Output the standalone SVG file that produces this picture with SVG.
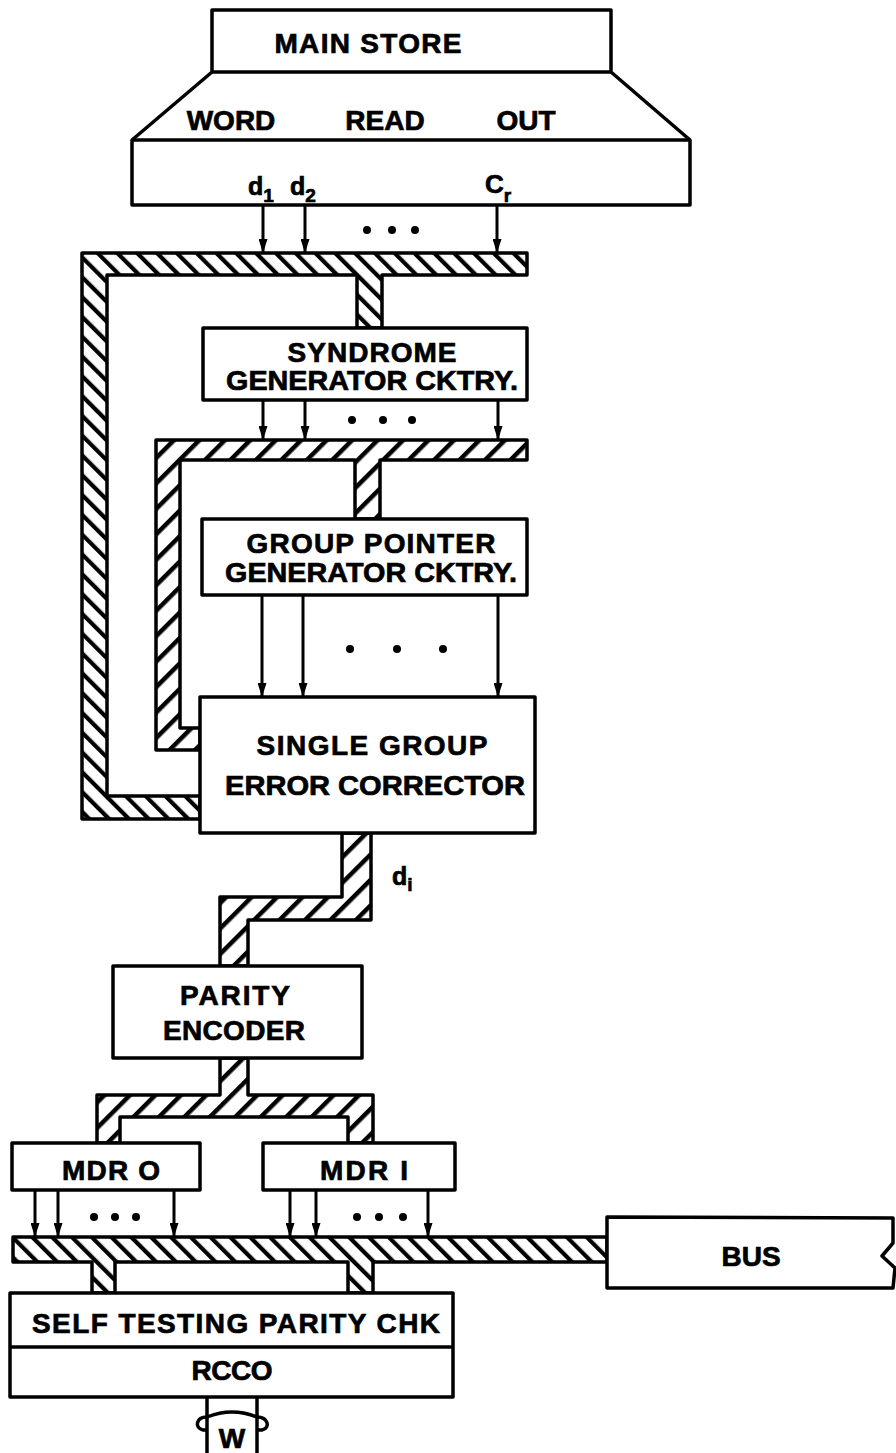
<svg xmlns="http://www.w3.org/2000/svg" width="896" height="1453" viewBox="0 0 896 1453">
<style>
.box{fill:#fff;stroke:#000;stroke-width:3.5;stroke-linejoin:round}
.ln{fill:none;stroke:#000;stroke-width:3.5;stroke-linejoin:round}
.t{font-family:"Liberation Sans",Arial,sans-serif;font-weight:bold;font-size:28px;fill:#000;stroke:#000;stroke-width:0.7;text-anchor:middle}
.s{font-family:"Liberation Sans",Arial,sans-serif;font-weight:bold;fill:#000;stroke:#000;stroke-width:0.7}
.arr{stroke:#000;stroke-width:3;fill:none;marker-end:url(#ah)}
.busB{fill:url(#hb);stroke:#000;stroke-width:3.5;stroke-linejoin:round}
.busF{fill:url(#hf);stroke:#000;stroke-width:3.5;stroke-linejoin:round}
.dot{fill:#000}
</style>
<defs>
<pattern id="hb" width="14" height="14" patternUnits="userSpaceOnUse" patternTransform="rotate(-45)"><rect width="14" height="14" fill="#fff"/><rect width="4.2" height="14" fill="#000"/></pattern>
<pattern id="hf" width="18" height="18" patternUnits="userSpaceOnUse" patternTransform="rotate(45)"><rect width="18" height="18" fill="#fff"/><rect width="4.5" height="18" fill="#000"/></pattern>
<marker id="ah" viewBox="0 0 10 10" refX="10" refY="5" markerWidth="14" markerHeight="9" markerUnits="userSpaceOnUse" orient="auto" preserveAspectRatio="none"><path d="M0,0 L10,5 L0,10 Z" fill="#000"/></marker>
</defs>
<rect width="896" height="1453" fill="#fff"/>

<g id="connectors">
<path class="busB" d="M82,253 L527,253 L527,275 L382,275 L382,328 L357,328 L357,275 L107,275 L107,796 L200,796 L200,819 L82,819 Z"/>
<path class="busF" d="M156,440 L527,440 L527,460 L380,460 L380,519 L355,519 L355,460 L180,460 L180,728 L200,728 L200,750 L156,750 Z"/>
<path class="busF" d="M342,833 L371,833 L371,920 L248,920 L248,966 L220,966 L220,897 L342,897 Z"/>
<path class="busF" d="M220,1058 L248,1058 L248,1095 L373,1095 L373,1143 L348,1143 L348,1117 L120,1117 L120,1143 L97,1143 L97,1095 L220,1095 Z"/>
<path class="busB" d="M13,1237 L607,1237 L607,1262 L373,1262 L373,1293 L348,1293 L348,1262 L115,1262 L115,1293 L92,1293 L92,1262 L13,1262 Z"/>

<line class="arr" x1="263" y1="205" x2="263" y2="253"/>
<line class="arr" x1="305" y1="205" x2="305" y2="253"/>
<line class="arr" x1="497" y1="205" x2="497" y2="253"/>
<circle class="dot" cx="367" cy="230" r="4"/><circle class="dot" cx="392" cy="230" r="4"/><circle class="dot" cx="415" cy="230" r="4"/>
<line class="arr" x1="263" y1="400" x2="263" y2="440"/>
<line class="arr" x1="305" y1="400" x2="305" y2="440"/>
<line class="arr" x1="498" y1="400" x2="498" y2="440"/>
<circle class="dot" cx="352" cy="420" r="4"/><circle class="dot" cx="383" cy="420" r="4"/><circle class="dot" cx="412" cy="420" r="4"/>
<line class="arr" x1="262" y1="595" x2="262" y2="697"/>
<line class="arr" x1="303" y1="595" x2="303" y2="697"/>
<line class="arr" x1="498" y1="595" x2="498" y2="697"/>
<circle class="dot" cx="350" cy="649" r="4"/><circle class="dot" cx="397" cy="649" r="4"/><circle class="dot" cx="443" cy="649" r="4"/>
<line class="arr" x1="35" y1="1190" x2="35" y2="1237"/>
<line class="arr" x1="58" y1="1190" x2="58" y2="1237"/>
<line class="arr" x1="174" y1="1190" x2="174" y2="1237"/>
<circle class="dot" cx="94" cy="1217" r="4"/><circle class="dot" cx="115" cy="1217" r="4"/><circle class="dot" cx="136" cy="1217" r="4"/>
<line class="arr" x1="290" y1="1190" x2="290" y2="1237"/>
<line class="arr" x1="316" y1="1190" x2="316" y2="1237"/>
<line class="arr" x1="428" y1="1190" x2="428" y2="1237"/>
<circle class="dot" cx="357" cy="1217" r="4"/><circle class="dot" cx="379" cy="1217" r="4"/><circle class="dot" cx="403" cy="1217" r="4"/>
<line class="ln" x1="207" y1="1397" x2="207" y2="1453"/>
<line class="ln" x1="257" y1="1397" x2="257" y2="1453"/>
<path class="ln" d="M207,1417 Q232,1407 257,1417" stroke-width="3"/>
<path class="ln" d="M207,1417 C196,1417 194,1428 203,1430 L207,1430" stroke-width="3"/>
<path class="ln" d="M257,1417 C268,1417 271,1428 262,1430 L257,1430" stroke-width="3"/>
</g>

<g id="main-store">
<path class="box" d="M212,10 L611,10 L611,72 L690,140 L690,205 L132,205 L132,140 L212,72 Z"/>
<line class="ln" x1="212" y1="72" x2="611" y2="72"/>
<line class="ln" x1="132" y1="140" x2="690" y2="140"/>
<text class="t" x="368" y="53" textLength="187" lengthAdjust="spacing">MAIN STORE</text>
<text class="t" x="231" y="130">WORD</text>
<text class="t" x="385" y="130">READ</text>
<text class="t" x="526" y="130">OUT</text>
<text class="s" x="248" y="195" font-size="25">d<tspan font-size="19" dy="7">1</tspan></text>
<text class="s" x="290" y="195" font-size="25">d<tspan font-size="19" dy="7">2</tspan></text>
<text class="s" x="485" y="193" font-size="26">C<tspan font-size="19" dy="9">r</tspan></text>
</g>

<g id="syndrome-generator">
<rect class="box" x="203" y="328" width="324" height="72"/>
<text class="t" x="372" y="362" textLength="169" lengthAdjust="spacing">SYNDROME</text>
<text class="t" x="372" y="390" textLength="292" lengthAdjust="spacingAndGlyphs">GENERATOR CKTRY.</text>
</g>

<g id="group-pointer-generator">
<rect class="box" x="202" y="519" width="325" height="76"/>
<text class="t" x="371" y="553" textLength="249" lengthAdjust="spacing">GROUP POINTER</text>
<text class="t" x="371" y="582" textLength="292" lengthAdjust="spacingAndGlyphs">GENERATOR CKTRY.</text>
</g>

<g id="single-group-error-corrector">
<rect class="box" x="200" y="697" width="335" height="136"/>
<text class="t" x="372" y="755" font-size="30" textLength="231" lengthAdjust="spacing">SINGLE GROUP</text>
<text class="t" x="375" y="795" font-size="30" textLength="300" lengthAdjust="spacingAndGlyphs">ERROR CORRECTOR</text>
</g>

<g id="di-label">
<text class="s" x="392" y="885" font-size="25">d<tspan font-size="19" dy="6">i</tspan></text>
</g>

<g id="parity-encoder">
<rect class="box" x="113" y="966" width="249" height="92"/>
<text class="t" x="235" y="1005" textLength="110" lengthAdjust="spacing">PARITY</text>
<text class="t" x="234" y="1040" textLength="142" lengthAdjust="spacing">ENCODER</text>
</g>

<g id="mdr0">
<rect class="box" x="12" y="1143" width="188" height="47"/>
<text class="t" x="111" y="1180" textLength="98" lengthAdjust="spacing">MDR O</text>
</g>

<g id="mdr1">
<rect class="box" x="263" y="1143" width="192" height="47"/>
<text class="t" x="364" y="1180" textLength="88" lengthAdjust="spacing">MDR I</text>
</g>

<g id="bus">
<path class="box" d="M607,1217 L893,1218 L893,1243 L882,1256 L895,1268 L893,1288 L607,1288 Z"/>
<text class="t" x="751" y="1266">BUS</text>
</g>

<g id="self-testing-parity-chk">
<rect class="box" x="10" y="1293" width="443" height="104"/>
<line class="ln" x1="10" y1="1347" x2="453" y2="1347"/>
<text class="t" x="236" y="1333" textLength="408" lengthAdjust="spacing">SELF TESTING PARITY CHK</text>
<text class="t" x="232" y="1380" textLength="81" lengthAdjust="spacing">RCCO</text>
</g>

<g id="w-label">
<text class="t" x="232" y="1448" font-size="24">W</text>
</g>
</svg>
